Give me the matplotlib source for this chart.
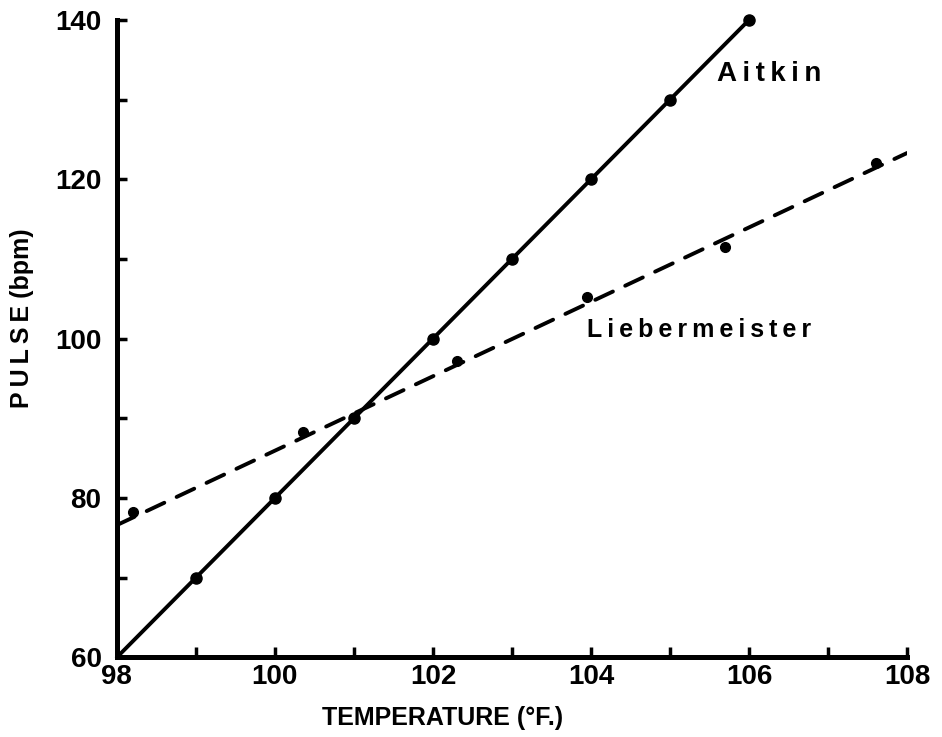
import matplotlib
matplotlib.use("Agg")
import matplotlib.pyplot as plt

# Aitkin: measured points (solid line)
aitkin_temp = [98, 99, 100, 101, 102, 103, 104, 105, 106]
aitkin_pulse = [60, 70, 80, 90, 100, 110, 120, 130, 140]

# Liebermeister: observed points and the fitted dashed line
lieb_temp = [98.2, 100.35, 102.3, 103.95, 105.7, 107.6]
lieb_pulse = [78.2, 88.3, 97.2, 105.2, 111.5, 122.1]
lieb_line_temp = [98, 108]
lieb_line_pulse = [76.6, 123.3]

x_ticks = list(range(98, 109))
x_labels = ["98", "", "100", "", "102", "", "104", "", "106", "", "108"]
y_ticks = list(range(60, 141, 10))
y_labels = ["60", "", "80", "", "100", "", "120", "", "140"]

FONT = "Liberation Sans"
THIN = "\u2009"


def spaced(s: str) -> str:
    return THIN.join(s)


def main() -> None:
    fig = plt.figure(figsize=(9.42, 7.37), dpi=100)
    ax = fig.add_axes([0.124, 0.108, 0.839, 0.865])

    # no dot drawn at the origin corner, as in the original
    ax.plot(aitkin_temp, aitkin_pulse, color="black", lw=2.8,
            marker="o", ms=8, markevery=slice(1, None),
            solid_capstyle="round", zorder=3, clip_on=False)
    ax.plot(lieb_line_temp, lieb_line_pulse, color="black", lw=2.8,
            dashes=(5, 3.5), dash_capstyle="round", zorder=3)
    ax.plot(lieb_temp, lieb_pulse, "o", color="black", ms=7, zorder=4)

    ax.text(105.6, 133.2, spaced("Aitkin"), fontsize=20, fontweight="bold",
            family=FONT, ha="left", va="center")
    ax.text(103.95, 101.1, spaced("Liebermeister"), fontsize=18,
            fontweight="bold", family=FONT, ha="left", va="center")

    ax.set_xlim(98, 108)
    ax.set_ylim(60, 140)
    ax.set_xticks(x_ticks)
    ax.set_xticklabels(x_labels)
    ax.set_yticks(y_ticks)
    ax.set_yticklabels(y_labels)
    ax.tick_params(direction="in", length=7, width=2.5, labelsize=20)
    ax.tick_params(axis="y", pad=11)
    ax.tick_params(axis="x", pad=5)
    for lab in ax.get_xticklabels() + ax.get_yticklabels():
        lab.set_fontweight("bold")
        lab.set_family(FONT)

    for side in ("top", "right"):
        ax.spines[side].set_visible(False)
    for side in ("left", "bottom"):
        ax.spines[side].set_linewidth(3.6)

    fig.text(443 / 942, 1 - 718 / 737, "TEMPERATURE (°F.)",
             fontsize=18, fontweight="bold", family=FONT,
             ha="center", va="center")
    fig.text(22 / 942, 1 - 318 / 737, spaced("PULSE") + " (bpm)",
             fontsize=18, fontweight="bold", family=FONT,
             ha="center", va="center", rotation=90)

    fig.savefig("out.png", dpi=100)


if __name__ == "__main__":
    main()
